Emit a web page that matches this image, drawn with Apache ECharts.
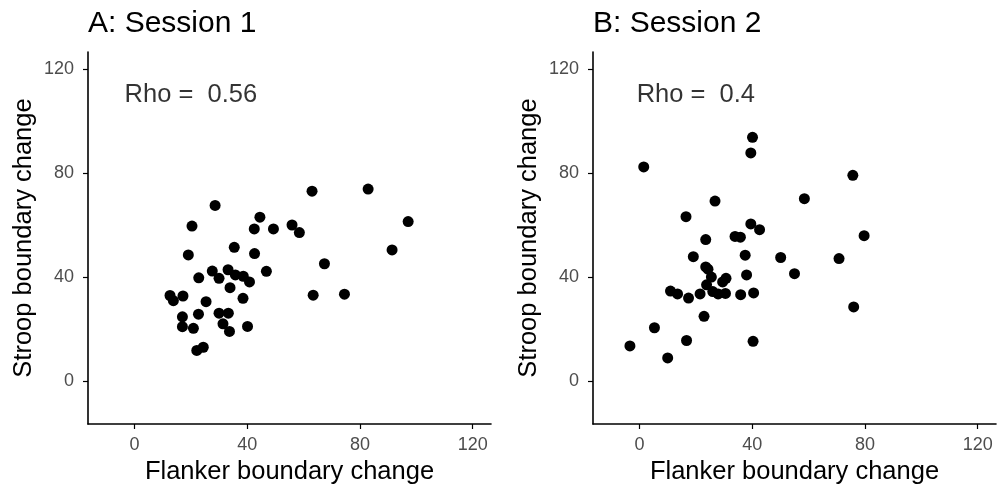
<!DOCTYPE html>
<html>
<head>
<meta charset="utf-8">
<script src="https://cdn.jsdelivr.net/npm/echarts@6/dist/echarts.min.js"></script>
<style>html,body{margin:0;padding:0;background:#fff}#c{width:997px;height:490px}</style>
</head>
<body>
<div id="c"></div>
<script>
// Session 1: [flanker change, stroop change]
const session1 = [
  [63.0,73.0],[82.9,73.8],[28.6,67.5],[97.1,61.3],[44.5,63.0],[20.4,59.6],[42.5,58.5],
  [49.3,58.5],[55.9,60.0],[58.5,57.1],[35.4,51.4],[91.4,50.4],[19.1,48.5],[42.6,49.0],
  [67.4,45.1],[46.8,42.2],[27.6,42.3],[22.8,39.7],[30.0,39.5],[33.2,42.8],[35.8,40.8],
  [38.6,40.3],[40.8,38.1],[33.9,35.9],[12.6,32.9],[13.8,30.9],[17.2,32.7],[25.4,30.5],
  [38.5,31.8],[63.4,33.0],[74.5,33.4],[17.0,24.7],[22.7,25.7],[30.0,26.1],[33.3,26.1],
  [17.0,20.9],[20.9,20.3],[31.4,22.0],[33.7,19.1],[40.1,21.0],[22.1,11.8],[24.4,13.0]
];
// Session 2: [flanker change, stroop change]
const session2 = [
  [40.1,93.7],[39.5,87.7],[1.5,82.3],[75.7,79.1],[58.5,70.1],[26.8,69.2],[16.5,63.2],
  [39.5,60.4],[42.6,58.2],[79.7,55.9],[23.5,54.4],[33.9,55.6],[35.8,55.3],[19.1,47.8],
  [37.5,48.4],[50.1,47.5],[70.8,47.1],[23.5,43.9],[24.3,43.0],[55.0,41.3],[38.0,40.8],
  [25.5,40.0],[30.7,39.5],[29.5,38.1],[23.8,37.0],[11.0,34.6],[13.5,33.5],[21.5,33.5],
  [26.0,34.4],[27.9,33.5],[30.5,33.7],[35.9,33.2],[40.5,33.9],[17.4,31.9],[76.0,28.5],
  [22.9,24.9],[5.3,20.5],[-3.4,13.5],[16.7,15.6],[40.3,15.3],[10.0,8.9]
];
const panelTitles = ['A: Session 1', 'B: Session 2'];
const rhoLabels = ['Rho =  0.56', 'Rho =  0.4'];
const rhoPos = [20, 110];
const axisTicks = [0, 40, 80, 120];
const xName = 'Flanker boundary change';
const yName = 'Stroop boundary change';

const FONT = '"Liberation Sans", Arial, sans-serif';
const chart = echarts.init(document.getElementById('c'), null, {renderer: 'canvas'});

const grids = [
  {left: 88, top: 52, width: 403, height: 374},
  {left: 593, top: 52, width: 403, height: 374}
];

function makeX(i) {
  return {
    type: 'value', gridIndex: i, min: -16.5, max: 126.5,
    interval: 40,
    name: xName, nameLocation: 'middle', nameGap: 35,
    nameTextStyle: {fontFamily: FONT, fontSize: 25.5, color: '#000'},
    axisLine: {show: true, onZero: false, lineStyle: {color: '#000', width: 1.6}},
    axisTick: {show: true, length: 5, lineStyle: {color: '#000', width: 1.2},
      customValues: axisTicks},
    axisLabel: {fontFamily: FONT, fontSize: 18, color: '#4d4d4d', margin: 12,
      customValues: axisTicks},
    splitLine: {show: false}
  };
}
function makeY(i) {
  return {
    type: 'value', gridIndex: i, min: -16.5, max: 126.5,
    interval: 40,
    name: yName, nameLocation: 'middle', nameGap: 51,
    nameTextStyle: {fontFamily: FONT, fontSize: 25.5, color: '#000'},
    axisLine: {show: true, onZero: false, lineStyle: {color: '#000', width: 1.6}},
    axisTick: {show: true, length: 5, lineStyle: {color: '#000', width: 1.2},
      customValues: axisTicks},
    axisLabel: {fontFamily: FONT, fontSize: 18, color: '#4d4d4d', margin: 14,
      customValues: axisTicks},
    splitLine: {show: false}
  };
}

const datasets = [session1, session2];
const series = [];
datasets.forEach((d, i) => {
  series.push({
    type: 'scatter', xAxisIndex: i, yAxisIndex: i, data: d,
    symbolSize: 11, itemStyle: {color: '#000', opacity: 1},
    silent: true, animation: false
  });
  series.push({
    type: 'scatter', xAxisIndex: i, yAxisIndex: i, data: [rhoPos],
    symbolSize: 0, silent: true, animation: false,
    label: {show: true, position: 'inside', formatter: rhoLabels[i],
      fontFamily: FONT, fontSize: 25.5, color: '#000'}
  });
});

chart.setOption({
  animation: false,
  title: panelTitles.map((t, i) => ({
    text: t, left: grids[i].left, top: 9, padding: 0,
    textStyle: {fontFamily: FONT, fontSize: 30, fontWeight: 'normal', color: '#000'}
  })),
  grid: grids,
  xAxis: [makeX(0), makeX(1)],
  yAxis: [makeY(0), makeY(1)],
  series: series
});
</script>
</body>
</html>
